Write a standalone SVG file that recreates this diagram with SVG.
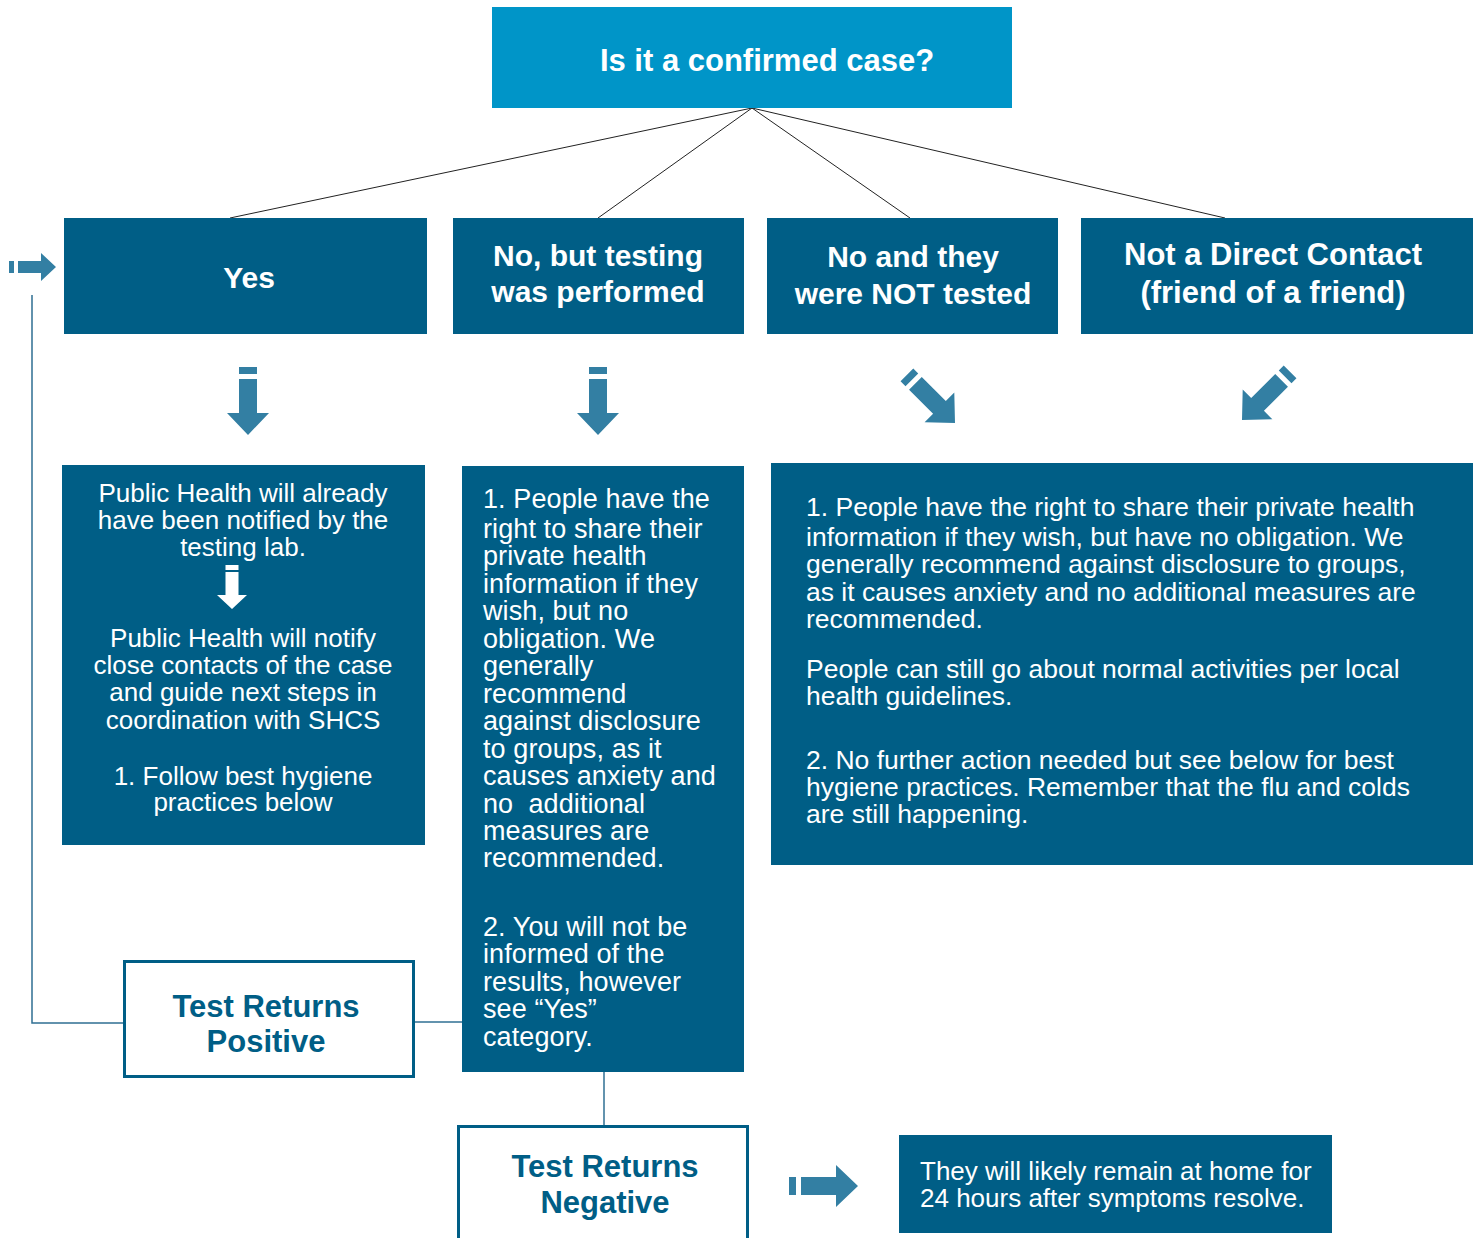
<svg xmlns="http://www.w3.org/2000/svg" width="1476" height="1238" viewBox="0 0 1476 1238">
<defs>
<style>
.dark{fill:#005E86}
.top{fill:#0095C8}
.arrow{fill:#337FA3}
.hd{font-family:"Liberation Sans",Arial,sans-serif;font-weight:bold;font-size:30px;fill:#fff;text-anchor:middle}
.ob{font-family:"Liberation Sans",Arial,sans-serif;font-weight:bold;font-size:31px;fill:#005E86;text-anchor:middle}
.bd{font-family:"Liberation Sans",Arial,sans-serif;font-size:26px;fill:#fff}
.c{text-anchor:middle}
.ln{stroke:#222;stroke-width:1;fill:none}
.bl{stroke:#2F6F93;stroke-width:1.5;fill:none}
.obox{fill:#fff;stroke:#005E86;stroke-width:3}
</style>
<symbol id="downArrow" overflow="visible">
<path d="M-9,-68 H9 V-61 H-9 Z M-9,-56 H9 V-22 H21 L0,0 L-21,-22 H-9 Z"/>
</symbol>
</defs>

<g id="connectors">
<line class="ln" x1="752" y1="108" x2="230" y2="218"/>
<line class="ln" x1="752" y1="108" x2="598" y2="218"/>
<line class="ln" x1="752" y1="108" x2="910" y2="218"/>
<line class="ln" x1="752" y1="108" x2="1225" y2="218"/>
<polyline class="bl" points="124,1023 32,1023 32,295"/>
<line class="bl" x1="414" y1="1022" x2="462" y2="1022"/>
<line class="bl" x1="604" y1="1072" x2="604" y2="1126"/>
<g class="arrow">
<use href="#downArrow" x="248" y="435"/>
<use href="#downArrow" x="598" y="435"/>
<use href="#downArrow" transform="translate(955,423) rotate(-45)"/>
<use href="#downArrow" transform="translate(1242,420) rotate(45)"/>
<path d="M9,261 H14 V273 H9 Z M18,261 H41 V253 L56,267 L41,281 V273 H18 Z"/>
<path d="M789,1177 H796 V1195 H789 Z M801,1177 H836 V1165 L858,1186 L836,1207 V1195 H801 Z"/>
</g>
</g>

<g id="node-question">
<rect class="top" x="492" y="7" width="520" height="101"/>
<text class="hd" x="767" y="71" style="font-size:31px">Is it a confirmed case?</text>
</g>

<g id="node-yes">
<rect class="dark" x="64" y="218" width="363" height="116"/>
<text class="hd" x="249" y="288">Yes</text>
</g>

<g id="node-tested">
<rect class="dark" x="453" y="218" width="291" height="116"/>
<text class="hd" x="598" y="266">No, but testing</text>
<text class="hd" x="598" y="302">was performed</text>
</g>

<g id="node-nottested">
<rect class="dark" x="767" y="218" width="291" height="116"/>
<text class="hd" x="913" y="267">No and they</text>
<text class="hd" x="913" y="304">were NOT tested</text>
</g>

<g id="node-indirect">
<rect class="dark" x="1081" y="218" width="392" height="116"/>
<text class="hd" x="1273" y="265" style="font-size:31px">Not a Direct Contact</text>
<text class="hd" x="1273" y="303" style="font-size:31px">(friend of a friend)</text>
</g>

<g id="node-yes-info">
<rect class="dark" x="62" y="465" width="363" height="380"/>
<g class="bd c">
<text x="243" y="502">Public Health will already</text>
<text x="243" y="529">have been notified by the</text>
<text x="243" y="556">testing lab.</text>
<text x="243" y="647">Public Health will notify</text>
<text x="243" y="674">close contacts of the case</text>
<text x="243" y="701">and guide next steps in</text>
<text x="243" y="729">coordination with SHCS</text>
<text x="243" y="785">1. Follow best hygiene</text>
<text x="243" y="811">practices below</text>
</g>
<path fill="#fff" d="M225.5,565 H238.5 V570 H225.5 Z M225.5,572 H238.5 V595 H247 L232,609 L217,595 H225.5 Z"/>
</g>

<g id="node-tested-info">
<rect class="dark" x="462" y="466" width="282" height="606"/>
<g class="bd" style="font-size:27px;letter-spacing:0.1px">
<text x="483" y="508">1. People have the</text>
<text x="483" y="538">right to share their</text>
<text x="483" y="565">private health</text>
<text x="483" y="593">information if they</text>
<text x="483" y="620">wish, but no</text>
<text x="483" y="648">obligation. We</text>
<text x="483" y="675">generally</text>
<text x="483" y="703">recommend</text>
<text x="483" y="730">against disclosure</text>
<text x="483" y="758">to groups, as it</text>
<text x="483" y="785">causes anxiety and</text>
<text x="483" y="813" xml:space="preserve">no  additional</text>
<text x="483" y="840">measures are</text>
<text x="483" y="867">recommended.</text>
<text x="483" y="936">2. You will not be</text>
<text x="483" y="963">informed of the</text>
<text x="483" y="991">results, however</text>
<text x="483" y="1018">see “Yes”</text>
<text x="483" y="1046">category.</text>
</g>
</g>

<g id="node-nottested-info">
<rect class="dark" x="771" y="463" width="702" height="402"/>
<g class="bd" style="font-size:26.5px">
<text x="806" y="516">1. People have the right to share their private health</text>
<text x="806" y="546">information if they wish, but have no obligation. We</text>
<text x="806" y="573">generally recommend against disclosure to groups,</text>
<text x="806" y="601">as it causes anxiety and no additional measures are</text>
<text x="806" y="628">recommended.</text>
<text x="806" y="678">People can still go about normal activities per local</text>
<text x="806" y="705">health guidelines.</text>
<text x="806" y="769">2. No further action needed but see below for best</text>
<text x="806" y="796">hygiene practices. Remember that the flu and colds</text>
<text x="806" y="823">are still happening.</text>
</g>
</g>

<g id="node-positive">
<rect class="obox" x="124.5" y="961.5" width="289" height="115"/>
<text class="ob" x="266" y="1017">Test Returns</text>
<text class="ob" x="266" y="1052">Positive</text>
</g>

<g id="node-negative">
<rect class="obox" x="458.5" y="1126.5" width="289" height="120"/>
<text class="ob" x="605" y="1177">Test Returns</text>
<text class="ob" x="605" y="1213">Negative</text>
</g>

<g id="node-home">
<rect class="dark" x="899" y="1135" width="433" height="98"/>
<g class="bd">
<text x="920" y="1180">They will likely remain at home for</text>
<text x="920" y="1207">24 hours after symptoms resolve.</text>
</g>
</g>
</svg>
